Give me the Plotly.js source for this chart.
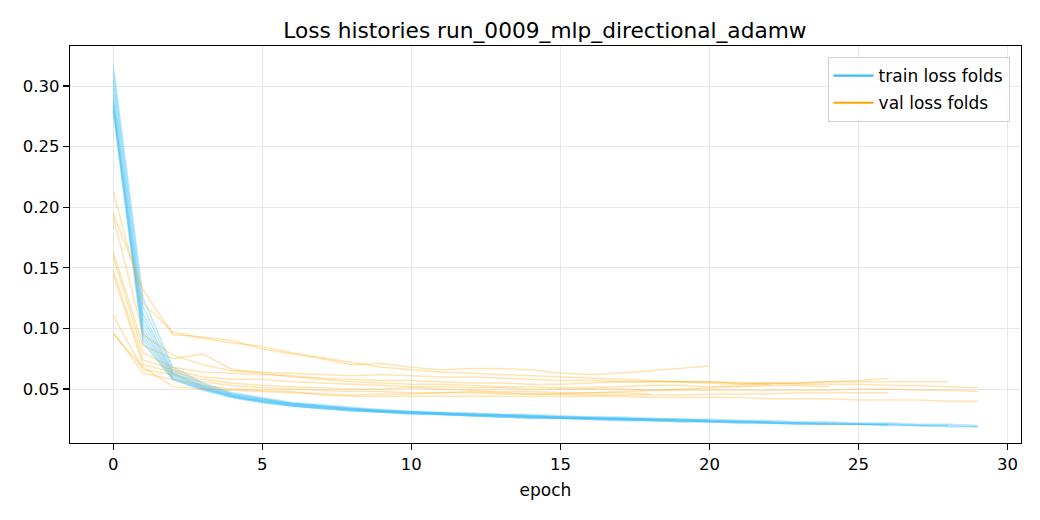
<!DOCTYPE html>
<html>
<head>
<meta charset="utf-8">
<script src="https://cdn.plot.ly/plotly-3.0.1.min.js"></script>
<style>
    html, body { margin: 0; padding: 0; background: #fff; }
    #chart { width: 1040px; height: 520px; }
</style>
</head>
<body>
<div id="chart"></div>
<script>
// epochs shared by all folds, each fold stops early at its own length
const epochs = [0, 1, 2, 3, 4, 5, 6, 7, 8, 9, 10, 11, 12, 13, 14, 15, 16, 17, 18, 19, 20, 21, 22, 23, 24, 25, 26, 27, 28, 29]

const trainLoss = [
    [0.317, 0.125, 0.068, 0.055, 0.047, 0.043, 0.039, 0.037, 0.035, 0.033, 0.032, 0.031, 0.030, 0.029, 0.029, 0.028, 0.027, 0.027, 0.026, 0.025, 0.025, 0.024, 0.024, 0.023, 0.023, 0.022, 0.022, 0.021, 0.021, 0.020],
    [0.311, 0.118, 0.066, 0.054, 0.046, 0.042, 0.038, 0.036, 0.034, 0.033, 0.031, 0.030, 0.030, 0.029, 0.028, 0.027, 0.027, 0.026, 0.025, 0.025, 0.024],
    [0.305, 0.112, 0.064, 0.053, 0.046, 0.042, 0.038, 0.036, 0.034, 0.032, 0.031, 0.030, 0.029, 0.028, 0.028, 0.027, 0.026, 0.026, 0.025, 0.024, 0.024, 0.023, 0.023, 0.022, 0.022, 0.021, 0.021],
    [0.298, 0.108, 0.063, 0.052, 0.045, 0.041, 0.038, 0.036, 0.034, 0.032, 0.031, 0.030, 0.029, 0.029, 0.028, 0.027, 0.026, 0.026, 0.025, 0.025, 0.024, 0.024, 0.023],
    [0.293, 0.104, 0.062, 0.052, 0.045, 0.041, 0.037, 0.035, 0.033, 0.032, 0.031, 0.030, 0.029, 0.028, 0.027, 0.027, 0.026, 0.025, 0.025, 0.024, 0.024, 0.023, 0.023, 0.022, 0.022, 0.021, 0.021, 0.020, 0.020],
    [0.288, 0.100, 0.061, 0.051, 0.044, 0.040, 0.037, 0.035, 0.033, 0.032, 0.030, 0.030, 0.029, 0.028, 0.027, 0.026, 0.026, 0.025, 0.024, 0.024, 0.023, 0.023, 0.022, 0.022, 0.021, 0.021, 0.021, 0.020, 0.020, 0.019],
    [0.286, 0.097, 0.060, 0.051, 0.044, 0.040, 0.037, 0.035, 0.033, 0.031, 0.030, 0.029, 0.028, 0.028, 0.027, 0.026, 0.026, 0.025, 0.025],
    [0.284, 0.094, 0.059, 0.050, 0.044, 0.040, 0.036, 0.034, 0.033, 0.031, 0.030, 0.029, 0.028, 0.027, 0.027, 0.026, 0.025, 0.025, 0.024, 0.024, 0.023, 0.023, 0.022, 0.022, 0.021, 0.021, 0.020],
    [0.281, 0.091, 0.058, 0.050, 0.043, 0.039, 0.036, 0.034, 0.032, 0.031, 0.030, 0.029, 0.028, 0.027, 0.026, 0.026, 0.025, 0.024, 0.024, 0.023, 0.023, 0.022, 0.022, 0.021, 0.021, 0.021, 0.020, 0.020, 0.019, 0.019],
    [0.279, 0.088, 0.058, 0.049, 0.043, 0.039, 0.036, 0.034, 0.032, 0.031, 0.029, 0.029, 0.028, 0.027, 0.026, 0.026, 0.025, 0.024, 0.024, 0.023, 0.023, 0.022, 0.022, 0.021, 0.021],
]

const valLoss = [
    [0.213, 0.121, 0.097, 0.092, 0.088, 0.085, 0.080, 0.076, 0.072, 0.068, 0.066, 0.064, 0.063, 0.062, 0.061, 0.060, 0.059, 0.058, 0.057, 0.056, 0.056, 0.055, 0.055, 0.054, 0.054, 0.054, 0.053, 0.053, 0.052, 0.051],
    [0.195, 0.132, 0.095, 0.093, 0.090, 0.083, 0.079, 0.075, 0.070, 0.071, 0.068, 0.066, 0.067, 0.067, 0.066, 0.063, 0.062, 0.063, 0.065, 0.067, 0.069],
    [0.192, 0.095, 0.078, 0.070, 0.065, 0.064, 0.063, 0.062, 0.061, 0.062, 0.061, 0.060, 0.060, 0.059, 0.058, 0.057, 0.057, 0.056, 0.056, 0.056, 0.056, 0.055, 0.054, 0.055, 0.056, 0.057, 0.059],
    [0.163, 0.086, 0.075, 0.079, 0.066, 0.063, 0.060, 0.058, 0.056, 0.055, 0.054, 0.054, 0.053, 0.052, 0.052, 0.051, 0.051, 0.052, 0.053, 0.053, 0.052, 0.053, 0.054],
    [0.159, 0.080, 0.068, 0.064, 0.063, 0.062, 0.061, 0.059, 0.058, 0.057, 0.057, 0.056, 0.055, 0.055, 0.054, 0.054, 0.055, 0.056, 0.056, 0.056, 0.055, 0.054, 0.055, 0.055, 0.056, 0.056, 0.056, 0.056, 0.056],
    [0.148, 0.074, 0.066, 0.060, 0.058, 0.058, 0.056, 0.055, 0.054, 0.053, 0.052, 0.052, 0.051, 0.051, 0.050, 0.050, 0.050, 0.050, 0.049, 0.049, 0.049, 0.049, 0.049, 0.049, 0.049, 0.050, 0.050, 0.049, 0.049, 0.048],
    [0.144, 0.070, 0.064, 0.058, 0.055, 0.053, 0.052, 0.051, 0.050, 0.050, 0.051, 0.050, 0.049, 0.048, 0.048, 0.047, 0.047, 0.047, 0.046],
    [0.111, 0.066, 0.062, 0.056, 0.053, 0.051, 0.050, 0.049, 0.048, 0.048, 0.047, 0.047, 0.047, 0.046, 0.046, 0.046, 0.045, 0.045, 0.045, 0.045, 0.046, 0.046, 0.046, 0.047, 0.047, 0.047, 0.047],
    [0.097, 0.063, 0.058, 0.053, 0.050, 0.049, 0.048, 0.045, 0.044, 0.044, 0.044, 0.044, 0.044, 0.044, 0.044, 0.044, 0.044, 0.044, 0.043, 0.043, 0.043, 0.043, 0.042, 0.042, 0.042, 0.041, 0.041, 0.041, 0.040, 0.040],
    [0.095, 0.068, 0.052, 0.050, 0.049, 0.048, 0.047, 0.046, 0.045, 0.046, 0.046, 0.047, 0.048, 0.047, 0.046, 0.046, 0.047, 0.048, 0.049, 0.050, 0.051, 0.052, 0.053, 0.053, 0.052],
]

const xTicks = [0, 5, 10, 15, 20, 25, 30]
const yTicks = [0.05, 0.10, 0.15, 0.20, 0.25, 0.30]

const trainColor = "#3dbdf6"
const valColor = "#ffa500"

function foldTrace(values, color, alpha) {
    return {
        x: epochs.slice(0, values.length),
        y: values,
        type: "scatter",
        mode: "lines",
        line: { color: color, width: 1.5 },
        opacity: alpha,
        showlegend: false,
        hoverinfo: "skip",
    }
}

const traces = []
trainLoss.forEach((v) => traces.push(foldTrace(v, trainColor, 0.35)))
valLoss.forEach((v) => traces.push(foldTrace(v, valColor, 0.3)))

// legend entries drawn at full strength, like matplotlib's proxy handles
traces.push({ x: [null], y: [null], type: "scatter", mode: "lines", line: { color: trainColor, width: 2.2 }, name: "train loss folds", legendgroup: "train" })
traces.push({ x: [null], y: [null], type: "scatter", mode: "lines", line: { color: valColor, width: 2.2 }, name: "val loss folds", legendgroup: "val" })

const axisStyle = {
    showline: true,
    linecolor: "#000",
    linewidth: 1.2,
    mirror: true,
    ticks: "outside",
    ticklen: 6,
    tickwidth: 1.2,
    tickcolor: "#000",
    showgrid: true,
    gridcolor: "#e8e8e8",
    gridwidth: 1,
    zeroline: false,
    tickfont: { size: 16.5, color: "#000" },
}

const layout = {
    width: 1040,
    height: 520,
    paper_bgcolor: "#fff",
    plot_bgcolor: "#fff",
    font: { family: "DejaVu Sans, sans-serif", color: "#000" },
    title: { text: "Loss histories run_0009_mlp_directional_adamw", font: { size: 21.7 }, x: 0.524, xanchor: "center", y: 0.942, yanchor: "middle" },
    margin: { l: 70, r: 19, t: 46, b: 77 },
    xaxis: Object.assign({}, axisStyle, {
        range: [-1.45, 30.45],
        tickvals: xTicks,
        ticktext: xTicks.map(String),
        title: { text: "epoch", font: { size: 17 }, standoff: 11 },
    }),
    yaxis: Object.assign({}, axisStyle, {
        range: [0.0055, 0.333],
        tickvals: yTicks,
        ticktext: yTicks.map((t) => t.toFixed(2)),
    }),
    legend: {
        x: 0.988,
        y: 0.972,
        xanchor: "right",
        yanchor: "top",
        bgcolor: "rgba(255,255,255,0.8)",
        bordercolor: "#d0d0d0",
        borderwidth: 1,
        font: { size: 17 },
        itemwidth: 40,
        tracegroupgap: 2,
    },
}

window.Plotly.newPlot("chart", traces, layout, { displayModeBar: false, staticPlot: true })
</script>
</body>
</html>
